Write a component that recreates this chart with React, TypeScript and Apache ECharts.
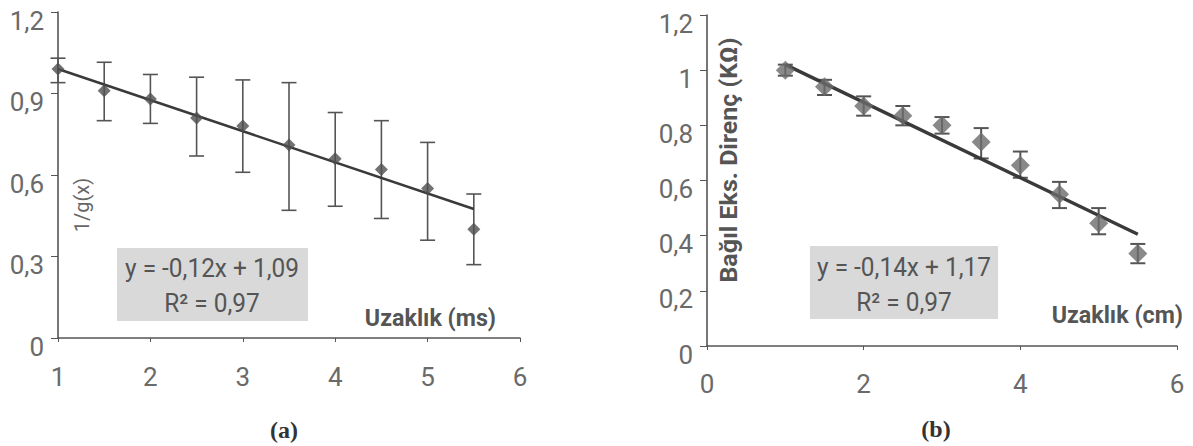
import React, { useEffect, useRef } from "react";
import * as echarts from "echarts";

// ---- Data: chart (a) ----
const xA = [1, 1.5, 2, 2.5, 3, 3.5, 4, 4.5, 5, 5.5];
const yA = [0.99, 0.91, 0.88, 0.81, 0.78, 0.71, 0.66, 0.62, 0.55, 0.4];
const lowA = [0.94, 0.8, 0.79, 0.67, 0.61, 0.47, 0.485, 0.44, 0.36, 0.27];
const highA = [1.03, 1.015, 0.97, 0.96, 0.95, 0.94, 0.83, 0.8, 0.72, 0.53];
const trendA = [
  [1, 0.99],
  [5.5, 0.475],
];
const eqA = "y = -0,12x + 1,09";
const r2A = "R² = 0,97";
const xNameA = "Uzaklık (ms)";
const yNameA = "1/g(x)";
const captionA = "(a)";

// ---- Data: chart (b) ----
const xB = [1, 1.5, 2, 2.5, 3, 3.5, 4, 4.5, 5, 5.5];
const yB = [1.0, 0.94, 0.87, 0.835, 0.8, 0.74, 0.655, 0.55, 0.445, 0.335];
const lowB = [0.98, 0.91, 0.835, 0.8, 0.77, 0.68, 0.61, 0.5, 0.405, 0.3];
const highB = [1.02, 0.965, 0.905, 0.87, 0.83, 0.79, 0.705, 0.595, 0.5, 0.37];
const trendB = [
  [1, 1.02],
  [5.5, 0.405],
];
const eqB = "y = -0,14x + 1,17";
const r2B = "R² = 0,97";
const xNameB = "Uzaklık (cm)";
const yNameB = "Bağıl Eks. Direnç (KΩ)";
const captionB = "(b)";

const SANS = "Roboto, 'Noto Sans', sans-serif";
const SERIF = "'Liberation Serif', 'DejaVu Serif', serif";
const AXIS_COLOR = "#555";
const LABEL_COLOR = "#6a6a6a";
const TEXT_COLOR = "#555";

const fmt = (v: number) => String(parseFloat(v.toFixed(2))).replace(".", ",");

function errRender(capW: number, color: string, lw: number) {
  return (params: any, api: any) => {
    const x = api.value(0);
    const lo = api.value(1);
    const hi = api.value(2);
    const pLo = api.coord([x, lo]);
    const pHi = api.coord([x, hi]);
    const st = { stroke: color, lineWidth: lw };
    return {
      type: "group",
      children: [
        { type: "line", shape: { x1: pLo[0], y1: pLo[1], x2: pHi[0], y2: pHi[1] }, style: st },
        { type: "line", shape: { x1: pLo[0] - capW / 2, y1: pLo[1], x2: pLo[0] + capW / 2, y2: pLo[1] }, style: st },
        { type: "line", shape: { x1: pHi[0] - capW / 2, y1: pHi[1], x2: pHi[0] + capW / 2, y2: pHi[1] }, style: st },
      ],
    };
  };
}

function xAxisCfg(idx: number, min: number, max: number, interval: number, margin: number) {
  return {
    type: "value",
    gridIndex: idx,
    min,
    max,
    interval,
    axisLine: { show: true, lineStyle: { color: AXIS_COLOR, width: 1.6 } },
    axisTick: { show: true, length: 4, lineStyle: { color: AXIS_COLOR } },
    splitLine: { show: false },
    axisLabel: { color: LABEL_COLOR, fontFamily: SANS, fontSize: 26, margin, formatter: fmt },
  };
}

function yAxisCfg(idx: number, interval: number) {
  return {
    type: "value",
    gridIndex: idx,
    min: 0,
    max: 1.2,
    interval,
    axisLine: { show: true, lineStyle: { color: AXIS_COLOR, width: 1.6 } },
    axisTick: { show: true, length: 7, lineStyle: { color: AXIS_COLOR } },
    splitLine: { show: false },
    axisLabel: {
      color: LABEL_COLOR,
      fontFamily: SANS,
      fontSize: 26,
      margin: 14,
      verticalAlign: "top",
      lineHeight: 17,
      formatter: fmt,
    },
  };
}

function label(text: string, x: number, y: number, opts: any = {}) {
  return {
    type: "text",
    x,
    y,
    scaleX: opts.scaleX ?? 1,
    scaleY: opts.scaleY ?? 1,
    rotation: opts.rotation ?? 0,
    z: 5,
    style: {
      text,
      fontFamily: opts.fontFamily ?? SANS,
      fontSize: opts.fontSize ?? 26,
      fontWeight: opts.fontWeight ?? "normal",
      fill: opts.fill ?? TEXT_COLOR,
      align: opts.align ?? "center",
      verticalAlign: "middle",
    },
  };
}

export default function App() {
  const ref = useRef<HTMLDivElement>(null);
  useEffect(() => {
    if (!ref.current) return;
    const chart = echarts.init(ref.current, undefined, { renderer: "svg" });
    const errA = xA.map((x, i) => [x, lowA[i], highA[i]]);
    const errB = xB.map((x, i) => [x, lowB[i], highB[i]]);
    const ptsA = xA.map((x, i) => [x, yA[i]]);
    const ptsB = xB.map((x, i) => [x, yB[i]]);

    const option: any = {
      animation: false,
      backgroundColor: "#fff",
      grid: [
        { left: 58, top: 12, width: 462, height: 326 },
        { left: 707, top: 15, width: 470, height: 331 },
      ],
      xAxis: [xAxisCfg(0, 1, 6, 1, 26), xAxisCfg(1, 0, 6, 2, 25)],
      yAxis: [yAxisCfg(0, 0.3), yAxisCfg(1, 0.2)],
      series: [
        {
          type: "custom",
          xAxisIndex: 0,
          yAxisIndex: 0,
          data: errA,
          encode: { x: 0, y: [1, 2] },
          renderItem: errRender(15, "#555", 1.6),
          z: 2,
        },
        {
          type: "line",
          xAxisIndex: 0,
          yAxisIndex: 0,
          data: trendA,
          showSymbol: false,
          lineStyle: { color: "#3a3a3a", width: 2.6 },
          z: 3,
        },
        {
          type: "scatter",
          xAxisIndex: 0,
          yAxisIndex: 0,
          data: ptsA,
          symbol: "diamond",
          symbolSize: 13,
          itemStyle: { color: "#4f4f4f" },
          z: 4,
        },
        {
          type: "custom",
          xAxisIndex: 1,
          yAxisIndex: 1,
          data: errB,
          encode: { x: 0, y: [1, 2] },
          renderItem: errRender(15, "#555", 2),
          z: 2,
        },
        {
          type: "line",
          xAxisIndex: 1,
          yAxisIndex: 1,
          data: trendB,
          showSymbol: false,
          lineStyle: { color: "#3a3a3a", width: 3.4 },
          z: 3,
        },
        {
          type: "scatter",
          xAxisIndex: 1,
          yAxisIndex: 1,
          data: ptsB,
          symbol: "diamond",
          symbolSize: 19,
          itemStyle: { color: "#6c6c6c" },
          z: 4,
        },
      ],
      graphic: [
        // equation box (a)
        { type: "rect", shape: { x: 117, y: 248, width: 191, height: 73 }, style: { fill: "#d9d9d9" }, z: 1 },
        label(eqA, 212, 268, { scaleX: 0.94 }),
        label(r2A, 212, 303, { scaleX: 0.94 }),
        label(xNameA, 496, 318, { fontSize: 24, fontWeight: "bold", align: "right", scaleX: 0.97 }),
        label(yNameA, 82, 205, { fontSize: 20, rotation: Math.PI / 2, fill: "#666" }),
        label(captionA, 284, 430, { fontFamily: SERIF, fontSize: 24, fontWeight: "bold", fill: "#333" }),
        // equation box (b)
        { type: "rect", shape: { x: 810, y: 246, width: 188, height: 73 }, style: { fill: "#d9d9d9" }, z: 1 },
        label(eqB, 904, 267, { scaleX: 0.94 }),
        label(r2B, 904, 302, { scaleX: 0.94 }),
        label(xNameB, 1183, 315, { fontSize: 24, fontWeight: "bold", align: "right", scaleX: 0.97 }),
        label(yNameB, 729, 160, { fontSize: 24, fontWeight: "bold", rotation: Math.PI / 2, scaleX: 1.04 }),
        label(captionB, 936, 429, { fontFamily: SERIF, fontSize: 24, fontWeight: "bold", fill: "#333" }),
      ],
    };
    chart.setOption(option);
    return () => chart.dispose();
  }, []);
  return (
    <div
      ref={ref}
      style={{ position: "absolute", left: 0, top: 0, width: 1193, height: 446, background: "#fff" }}
    />
  );
}
